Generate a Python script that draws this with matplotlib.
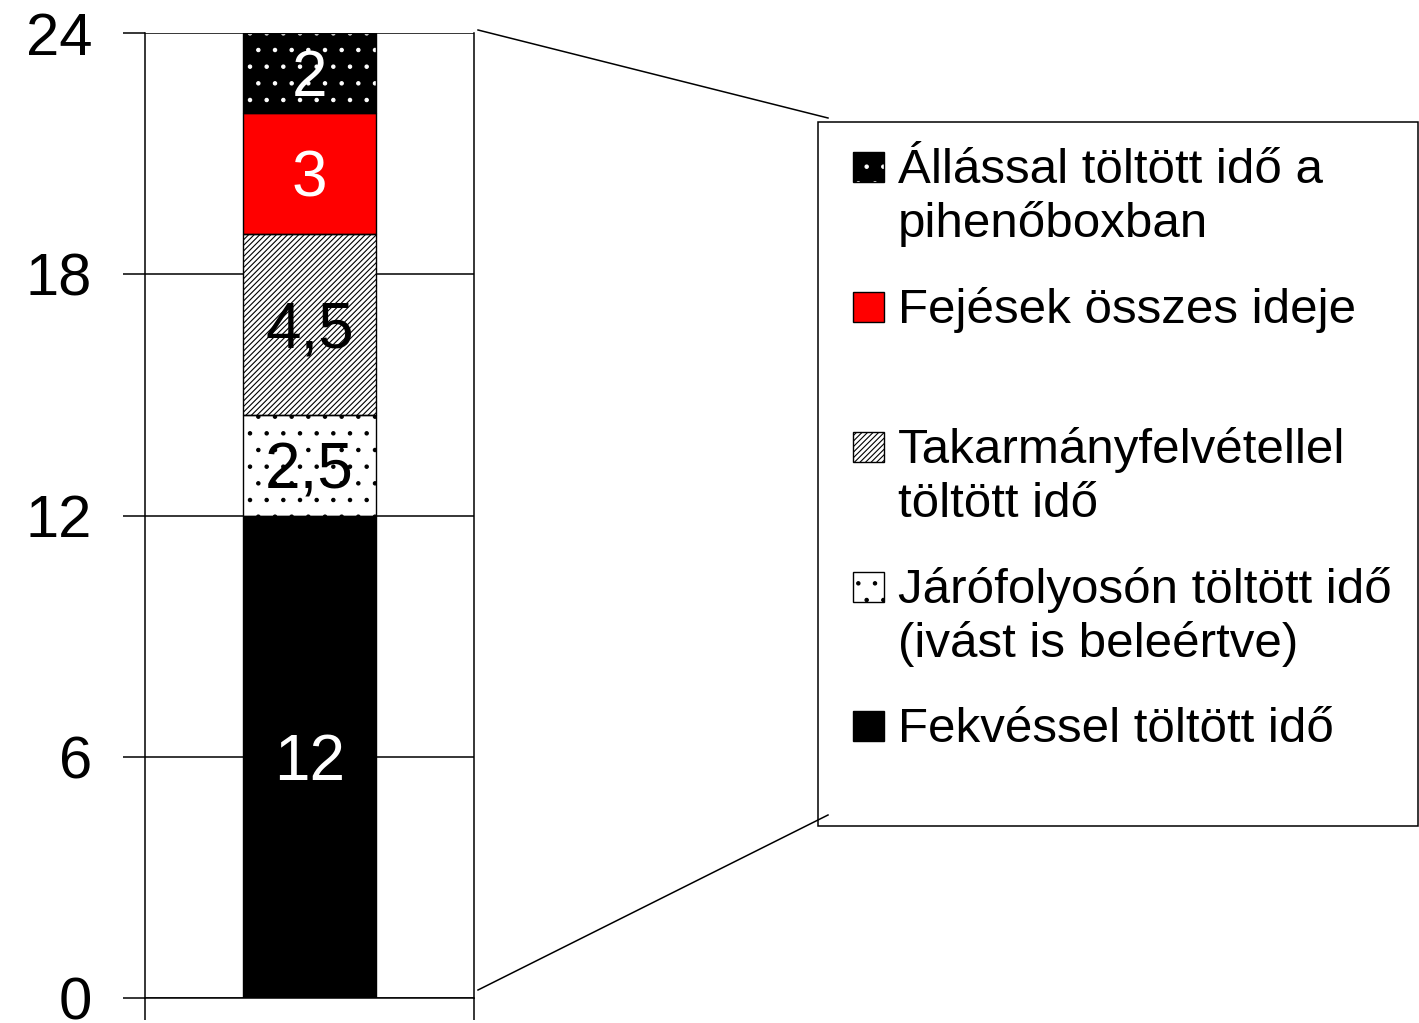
import matplotlib
matplotlib.use("Agg")
import matplotlib.pyplot as plt
from matplotlib.patches import Rectangle
from matplotlib.lines import Line2D

plt.rcParams['font.family'] = ['Liberation Sans', 'DejaVu Sans']

# ---- data (bottom to top) ----
values = [12, 2.5, 4.5, 3, 2]
labels = ["Fekvéssel töltött idő",
          "Járófolyosón töltött idő\n(ivást is beleértve)",
          "Takarmányfelvétellel\ntöltött idő",
          "Fejések összes ideje",
          "Állással töltött idő a\npihenőboxban"]
yticks = [0, 6, 12, 18, 24]

# styles per segment (bottom to top)
faces = ['black', 'white', 'white', '#ff0000', 'black']
hatches = [None, '.', '//////', None, '.']
hatch_cols = ['black', 'black', 'black', '#ff0000', 'white']
text_cols = ['white', 'black', 'black', 'white', 'white']

W, H = 1419, 1023
fig = plt.figure(figsize=(W / 100, H / 100), dpi=100)
plt.rcParams['hatch.linewidth'] = 0.8

def fx(px):
    return px / W

def fy(py):
    return 1 - py / H

ax = fig.add_axes([fx(145), fy(998), fx(474) - fx(145), fy(33) - fy(998)])
ax.set_xlim(-0.5, 0.5)
ax.set_ylim(0, 24)

lab_fs = 46
bottom = 0
for v, fc, hc, h, tc in zip(values, faces, hatch_cols, hatches, text_cols):
    ax.bar(0, v, width=0.404, bottom=bottom, color=fc, edgecolor=hc,
           hatch=h, linewidth=0, zorder=3)
    ax.bar(0, v, width=0.404, bottom=bottom, fill=False, edgecolor='black',
           linewidth=1.0, zorder=4)
    ax.annotate(f"{v:g}".replace('.', ','), (0, bottom + v / 2),
                xytext=(0, -lab_fs * 0.716 / 2), textcoords='offset points',
                ha='center', va='baseline', fontsize=lab_fs, color=tc, zorder=5)
    bottom += v

ax.set_yticks(yticks)
ax.set_yticklabels([str(t) for t in yticks], fontsize=43)
ax.yaxis.grid(True, color='black', linewidth=1.1, zorder=0)
ax.set_axisbelow(True)
ax.tick_params(axis='y', direction='out', length=16, width=1.1, pad=22)
ax.set_xticks([-0.5, 0.5])
ax.set_xticklabels(['', ''])
ax.tick_params(axis='x', direction='out', length=16, width=1.1)
for s in ax.spines.values():
    s.set_linewidth(1.1)
ax.spines['top'].set_visible(False)

# connector lines
fig.add_artist(Line2D([fx(478), fx(828)], [fy(30), fy(118)],
                      color='black', linewidth=1.1, transform=fig.transFigure))
fig.add_artist(Line2D([fx(478), fx(828)], [fy(990), fy(815)],
                      color='black', linewidth=1.1, transform=fig.transFigure))

# legend box
fig.add_artist(Rectangle((fx(818), fy(826)), fx(1418) - fx(818), fy(122) - fy(826),
                         fill=False, edgecolor='black', linewidth=1.1,
                         transform=fig.transFigure))

order = [4, 3, 2, 1, 0]
baselines = [183, 323, 463, 603, 742]
line_step = 54
for i, bl in zip(order, baselines):
    cy = bl - 16
    fig.add_artist(Rectangle((fx(853), fy(cy + 15)), fx(884) - fx(853), fy(cy - 15) - fy(cy + 15),
                             facecolor=faces[i], edgecolor=hatch_cols[i],
                             hatch=hatches[i], linewidth=0,
                             transform=fig.transFigure))
    fig.add_artist(Rectangle((fx(853), fy(cy + 15)), fx(884) - fx(853), fy(cy - 15) - fy(cy + 15),
                             fill=False, edgecolor='black', linewidth=1.0,
                             transform=fig.transFigure))
    for k, line in enumerate(labels[i].split("\n")):
        fig.text(fx(898), fy(bl + k * line_step), line, fontsize=35.5,
                 va='baseline', ha='left', color='black')

fig.savefig("out.png", dpi=100)
